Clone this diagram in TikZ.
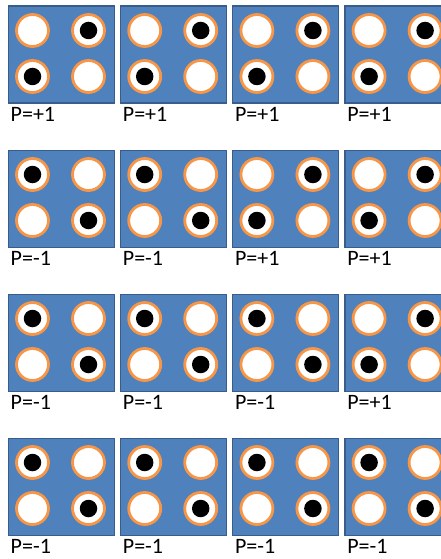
\documentclass[tikz,border=0pt]{standalone}
\usepackage{fontspec}
\setmainfont{Carlito}
\usepackage{xcolor}
\usetikzlibrary{positioning}
\definecolor{cellblue}{RGB}{79,129,189}
\definecolor{celledge}{RGB}{56,93,138}
\definecolor{ringorange}{RGB}{247,150,70}
\tikzset{
	cellbox/.style={draw=celledge, line width=1.5pt, fill=cellblue, minimum width=106pt, minimum height=97pt, inner sep=0pt, anchor=north west},
	hole/.style={circle, draw=ringorange, line width=2.8pt, fill=white, minimum size=32pt, inner sep=0pt},
	spin/.style={circle, fill=black, minimum size=17.5pt, inner sep=0pt},
	plabel/.style={anchor=north west, inner sep=0pt, font=\fontsize{22}{26}\selectfont},
}

\begin{document}
\begin{tikzpicture}[x=1pt, y=-1pt]
	\useasboundingbox (0,0) rectangle (441,559);
	\clip (0,0) rectangle (441,559);

	% one row per entry: parity of its four cells
	\foreach \r/\plist in {0/{+1,+1,+1,+1}, 1/{-1,-1,+1,+1}, 2/{-1,-1,-1,+1}, 3/{-1,-1,-1,-1}} {
		\foreach \p [count=\c from 0] in \plist {
			\node[cellbox] (box-\r-\c) at (7.5+112.2*\c, 5.5+144*\r) {};

			% four holes
			\node[hole] (h-\r-\c-a) at ([shift={(25,25)}]box-\r-\c.north west) {};
			\node[hole] (h-\r-\c-b) at ([shift={(81,25)}]box-\r-\c.north west) {};
			\node[hole] (h-\r-\c-c) at ([shift={(25,71)}]box-\r-\c.north west) {};
			\node[hole] (h-\r-\c-d) at ([shift={(81,71)}]box-\r-\c.north west) {};

			% occupied holes
			\ifnum\p>0
				\node[spin] (s-\r-\c-b) at (h-\r-\c-b) {};
				\node[spin] (s-\r-\c-c) at (h-\r-\c-c) {};
			\else
				\node[spin] (s-\r-\c-a) at (h-\r-\c-a) {};
				\node[spin] (s-\r-\c-d) at (h-\r-\c-d) {};
			\fi

			\node[plabel] (lab-\r-\c) at ([shift={(3,3.5)}]box-\r-\c.south west) {P=\p};
		}
	}
\end{tikzpicture}
\end{document}
